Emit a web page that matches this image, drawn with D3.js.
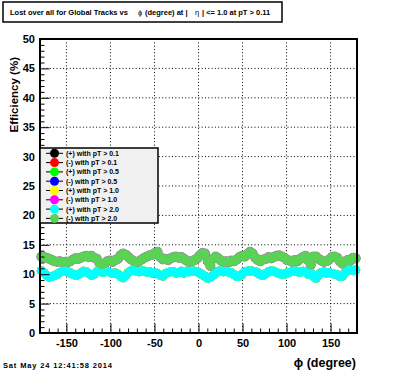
<!DOCTYPE html>
<html>
<head>
<meta charset="utf-8">
<script src="https://cdn.jsdelivr.net/npm/d3@7"></script>
<style>
  body { margin: 0; background: #fff; }
  svg { display: block; font-family: "Liberation Sans", Arial, sans-serif; font-weight: bold; }
</style>
</head>
<body>
<div class="chart"></div>
<script>
// phi bin centres (degree)
var phiBins = [
  -178.5,-175.5,-172.5,-169.5,-166.5,-163.5,-160.5,-157.5,-154.5,-151.5,
  -148.5,-145.5,-142.5,-139.5,-136.5,-133.5,-130.5,-127.5,-124.5,-121.5,
  -118.5,-115.5,-112.5,-109.5,-106.5,-103.5,-100.5,-97.5,-94.5,-91.5,
  -88.5,-85.5,-82.5,-79.5,-76.5,-73.5,-70.5,-67.5,-64.5,-61.5,
  -58.5,-55.5,-52.5,-49.5,-46.5,-43.5,-40.5,-37.5,-34.5,-31.5,
  -28.5,-25.5,-22.5,-19.5,-16.5,-13.5,-10.5,-7.5,-4.5,-1.5,
  1.5,4.5,7.5,10.5,13.5,16.5,19.5,22.5,25.5,28.5,
  31.5,34.5,37.5,40.5,43.5,46.5,49.5,52.5,55.5,58.5,
  61.5,64.5,67.5,70.5,73.5,76.5,79.5,82.5,85.5,88.5,
  91.5,94.5,97.5,100.5,103.5,106.5,109.5,112.5,115.5,118.5,
  121.5,124.5,127.5,130.5,133.5,136.5,139.5,142.5,145.5,148.5,
  151.5,154.5,157.5,160.5,163.5,166.5,169.5,172.5,175.5,178.5
];

// efficiency (%) for positive tracks
var plusEff = [
  10.6,10.2,9.8,9.5,9.6,9.8,10.0,10.3,10.5,10.6,
  10.4,10.2,10.0,9.8,9.9,10.2,10.5,10.4,10.1,9.8,
  10.0,10.4,10.6,10.3,10.4,10.5,10.3,10.1,10.2,10.0,
  9.6,9.4,9.8,10.3,10.6,10.7,10.5,10.4,10.6,10.5,
  10.3,10.4,10.2,10.3,10.1,9.8,9.7,10.1,10.3,10.4,
  10.4,10.2,10.3,10.5,10.2,10.5,10.4,10.6,10.5,10.4,
  10.2,9.9,9.6,9.3,9.5,9.8,10.2,10.5,10.6,10.4,
  10.5,10.3,10.2,9.9,9.6,9.7,10.0,10.4,10.5,10.6,
  10.5,10.4,10.2,9.9,9.8,10.1,10.4,10.6,10.5,10.3,
  10.1,10.0,10.0,10.2,10.3,10.5,10.6,10.4,10.3,10.5,
  10.4,10.0,10.2,9.6,9.3,9.9,10.3,10.4,10.2,10.3,
  10.1,10.0,9.9,9.6,9.7,10.3,10.6,10.7,10.6,10.7
];

// efficiency (%) for negative tracks
var minusEff = [
  13.0,12.9,12.8,12.6,12.4,12.2,12.1,12.2,12.0,12.1,
  12.0,12.2,12.5,12.7,12.6,12.8,13.0,13.1,12.9,13.1,
  12.8,12.6,11.9,11.6,11.8,12.2,12.3,12.1,12.4,12.6,
  13.2,13.5,13.3,12.9,12.5,12.2,12.0,12.2,12.5,12.8,
  13.0,13.2,13.3,13.6,13.8,12.9,12.5,12.6,12.4,12.7,
  12.9,13.0,12.8,12.9,12.6,12.3,12.1,12.2,12.4,12.7,
  13.2,13.6,13.5,12.2,11.4,12.6,13.0,12.7,12.3,12.1,
  12.2,12.0,12.3,12.2,12.5,12.9,13.1,13.0,13.4,13.8,
  13.5,12.8,12.4,12.2,12.5,12.6,12.9,12.7,12.9,13.1,
  13.2,13.0,12.8,12.4,12.3,12.1,12.4,12.2,12.6,12.9,
  13.1,12.4,11.6,13.0,13.0,12.6,12.3,12.1,12.2,12.5,
  12.9,13.0,12.8,12.2,11.8,12.2,12.4,12.3,12.8,12.7
];

var seriesLabels = [
  "(+) with pT > 0.1", "(-) with pT > 0.1",
  "(+) with pT > 0.5", "(-) with pT > 0.5",
  "(+) with pT > 1.0", "(-) with pT > 1.0",
  "(+) with pT > 2.0", "(-) with pT > 2.0"
];
var seriesColors = ["#000000", "#ff0000", "#00ff00", "#0000ff",
                    "#ffff00", "#ff00ff", "#00ffff", "#59d354"];
// each pT cut shares the same histogram per charge
var seriesData = [plusEff, minusEff, plusEff, minusEff,
                  plusEff, minusEff, plusEff, minusEff];

var xTicks = [-150, -100, -50, 0, 50, 100, 150];
var xMinor = [-170,-160,-140,-130,-120,-110,-90,-80,-70,-60,-40,-30,-20,-10,
              10,20,30,40,60,70,80,90,110,120,130,140,160,170];
var yTicks = [0, 5, 10, 15, 20, 25, 30, 35, 40, 45, 50];
var yMinor = [1,2,3,4,6,7,8,9,11,12,13,14,16,17,18,19,21,22,23,24,26,27,28,29,
              31,32,33,34,36,37,38,39,41,42,43,44,46,47,48,49];

var titleText = "Lost over all for Global Tracks vs";
var dateText = "Sat May 24 12:41:58 2014";

// dimensions
var W = 396, H = 372;
var margin = {top: 39, right: 39, bottom: 39, left: 40},
    width = W - margin.left - margin.right,
    height = H - margin.top - margin.bottom;

var x = d3.scaleLinear().domain([-180, 180]).range([0, width]);
var y = d3.scaleLinear().domain([0, 50]).range([height, 0]);

var svg = d3.select(".chart").append("svg")
    .attr("width", W)
    .attr("height", H);

var g = svg.append("g")
    .attr("transform", "translate(" + margin.left + "," + margin.top + ")");

// dotted grid
g.append("g").selectAll("line")
    .data(xTicks)
  .enter().append("line")
    .attr("x1", function(d) { return x(d); })
    .attr("x2", function(d) { return x(d); })
    .attr("y1", 0)
    .attr("y2", height)
    .style("stroke", "#000")
    .style("stroke-dasharray", "1,2.3");

g.append("g").selectAll("line")
    .data(yTicks.slice(1, -1))
  .enter().append("line")
    .attr("x1", 0)
    .attr("x2", width)
    .attr("y1", function(d) { return y(d); })
    .attr("y2", function(d) { return y(d); })
    .style("stroke", "#000")
    .style("stroke-dasharray", "1,2.3");

// markers, drawn in legend order
var r = 4.5;
seriesData.forEach(function(data, i) {
  g.append("g").selectAll("circle")
      .data(data)
    .enter().append("circle")
      .attr("cx", function(d, j) { return x(phiBins[j]); })
      .attr("cy", function(d) { return y(d); })
      .attr("r", r)
      .style("fill", seriesColors[i])
      .style("stroke", i == 5 ? "#9a88a2" : "none")
      .style("stroke-width", 1.2);
});

// axes
var fmt = function(d) { return String(d); };

g.append("g")
    .attr("transform", "translate(0," + height + ")")
    .call(d3.axisBottom(x).tickValues(xTicks).tickSize(-9.5).tickPadding(6).tickFormat(fmt));
g.append("g")
    .attr("transform", "translate(0," + height + ")")
    .call(d3.axisBottom(x).tickValues(xMinor).tickSize(-4.5).tickFormat(""));

g.append("g")
    .call(d3.axisLeft(y).tickValues(yTicks).tickSize(-9.5).tickPadding(5).tickFormat(fmt));
g.append("g")
    .call(d3.axisLeft(y).tickValues(yMinor).tickSize(-4.5).tickFormat(""));

g.selectAll(".domain").remove();
g.selectAll(".tick line").style("stroke", "#000");
g.selectAll(".tick text")
    .style("font-family", "'Liberation Sans', Arial, sans-serif")
    .style("font-weight", "bold")
    .style("font-size", "11px")
    .style("fill", "#000");

// frame
g.append("rect")
    .attr("width", width)
    .attr("height", height)
    .style("fill", "none")
    .style("stroke", "#000")
    .style("stroke-width", 2);

// axis titles
svg.append("text")
    .attr("transform", "translate(18,57) rotate(-90)")
    .attr("text-anchor", "end")
    .style("font-size", "11.5px")
    .text("Efficiency (%)");

svg.append("text")
    .attr("x", 356)
    .attr("y", 367)
    .attr("text-anchor", "end")
    .style("font-size", "12.5px")
    .text("\u03d5 (degree)");

// legend
var legend = svg.append("g").attr("transform", "translate(40,148)");
legend.append("rect")
    .attr("width", 118)
    .attr("height", 75)
    .style("fill", "#f0f0f0")
    .style("stroke", "#000")
    .style("stroke-width", 1.5);

var rows = legend.selectAll(".entry")
    .data(seriesLabels)
  .enter().append("g")
    .attr("class", "entry")
    .attr("transform", function(d, i) { return "translate(0," + (5.3 + i * 9.3) + ")"; });

rows.append("line")
    .attr("x1", 6).attr("x2", 23)
    .style("stroke", "#000");
rows.append("circle")
    .attr("cx", 14.5)
    .attr("r", r)
    .style("fill", function(d, i) { return seriesColors[i]; });
rows.append("text")
    .attr("x", 26)
    .attr("dy", "0.35em")
    .style("font-size", "7px")
    .text(function(d) { return d; });

// title box
svg.append("rect")
    .attr("x", 3).attr("y", 2)
    .attr("width", 279).attr("height", 20)
    .style("fill", "#fff")
    .style("stroke", "#000")
    .style("stroke-width", 1.5);

var title = svg.append("text")
    .attr("y", 15)
    .style("font-size", "7.5px");
title.append("tspan").attr("x", 10).text(titleText);
title.append("tspan").attr("x", 138).style("font-weight", "normal").text("\u03d5");
title.append("tspan").attr("x", 145).text("(degree) at |");
title.append("tspan").attr("x", 195).style("font-weight", "normal").text("\u03b7");
title.append("tspan").attr("x", 202).text("| <= 1.0 at pT > 0.11");

// date stamp
svg.append("text")
    .attr("x", 3)
    .attr("y", 368)
    .attr("textLength", 109)
    .attr("lengthAdjust", "spacing")
    .style("font-size", "7.5px")
    .text(dateText);
</script>
</body>
</html>
